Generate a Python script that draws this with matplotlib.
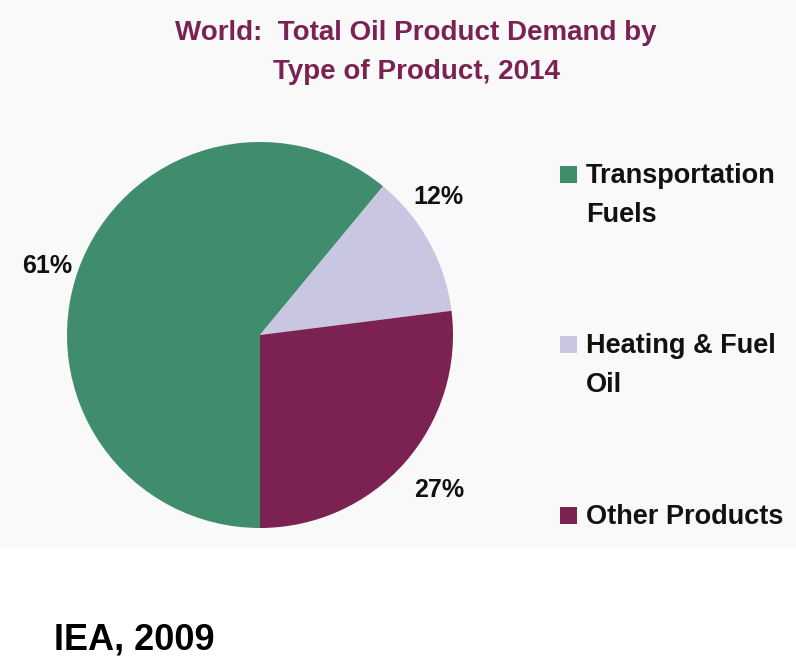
import numpy as np
import matplotlib.pyplot as plt
from matplotlib.patches import Rectangle

plt.rcParams['font.family'] = ['Liberation Sans', 'DejaVu Sans']
plt.rcParams['font.weight'] = 'bold'

categories = ['Transportation\nFuels', 'Heating & Fuel\nOil', 'Other Products']
shares = [61, 12, 27]
colors = ['#3f8d6d', '#c9c6e1', '#7c2253']
title_color = '#7b2255'

W, H = 796, 669
fig = plt.figure(figsize=(W / 100, H / 100), dpi=100)
fig.patch.set_facecolor('white')

# faint grey panel behind the chart, like the slide
fig.patches.append(Rectangle((0, (H - 548) / H), 1, 548 / H,
                             transform=fig.transFigure,
                             facecolor='#f9f9f9', edgecolor='none',
                             zorder=-10))

# pie axes placed in pixels: centre (260, 335), radius 193
cx, cy, r = 260, 335, 193
ax = fig.add_axes([(cx - r) / W, (H - cy - r) / H, 2 * r / W, 2 * r / H])
ax.patch.set_visible(False)
wedges, _ = ax.pie(shares, colors=colors, startangle=-90, counterclock=False,
                   radius=1.0, wedgeprops=dict(linewidth=0))
ax.set_xlim(-1, 1)
ax.set_ylim(-1, 1)
ax.set_aspect('equal')

# percentage labels outside each wedge
label_dist = [1.16, 1.17, 1.23]
angle_shift = [1.8, 9, 0.5]
for w, v, d, s in zip(wedges, shares, label_dist, angle_shift):
    ang = np.deg2rad((w.theta1 + w.theta2) / 2 + s)
    ax.text(d * np.cos(ang), d * np.sin(ang), f'{v}%', ha='center',
            va='center', fontsize=18, fontweight='bold', color='#111111',
            clip_on=False)

fig.text(416 / W, 1 - 33 / H, 'World:  Total Oil Product Demand by',
         ha='center', va='center', fontsize=20, color=title_color,
         fontweight='bold')
fig.text(416 / W, 1 - 72 / H, 'Type of Product, 2014',
         ha='center', va='center', fontsize=20, color=title_color,
         fontweight='bold')

# legend drawn by hand to keep the wide spacing of the original
legend_y = [174, 344, 515]
for lab, col, y in zip(categories, colors, legend_y):
    fig.patches.append(Rectangle((560 / W, 1 - (y + 9) / H), 17 / W, 17 / H,
                                 transform=fig.transFigure, facecolor=col,
                                 edgecolor='none'))
    fig.text(586 / W, 1 - (y + 9) / H, lab.split('\n')[0], ha='left',
             va='baseline', fontsize=19.5, color='#111111',
             fontweight='bold')
    if '\n' in lab:
        fig.text(586 / W, 1 - (y + 48) / H, lab.split('\n')[1], ha='left',
                 va='baseline', fontsize=19.5, color='#111111',
                 fontweight='bold')

fig.text(54 / W, 1 - 640 / H, 'IEA, 2009', ha='left', va='center',
         fontsize=26, color='black', fontweight='bold')

fig.savefig('out.png', dpi=100, facecolor=fig.get_facecolor())
